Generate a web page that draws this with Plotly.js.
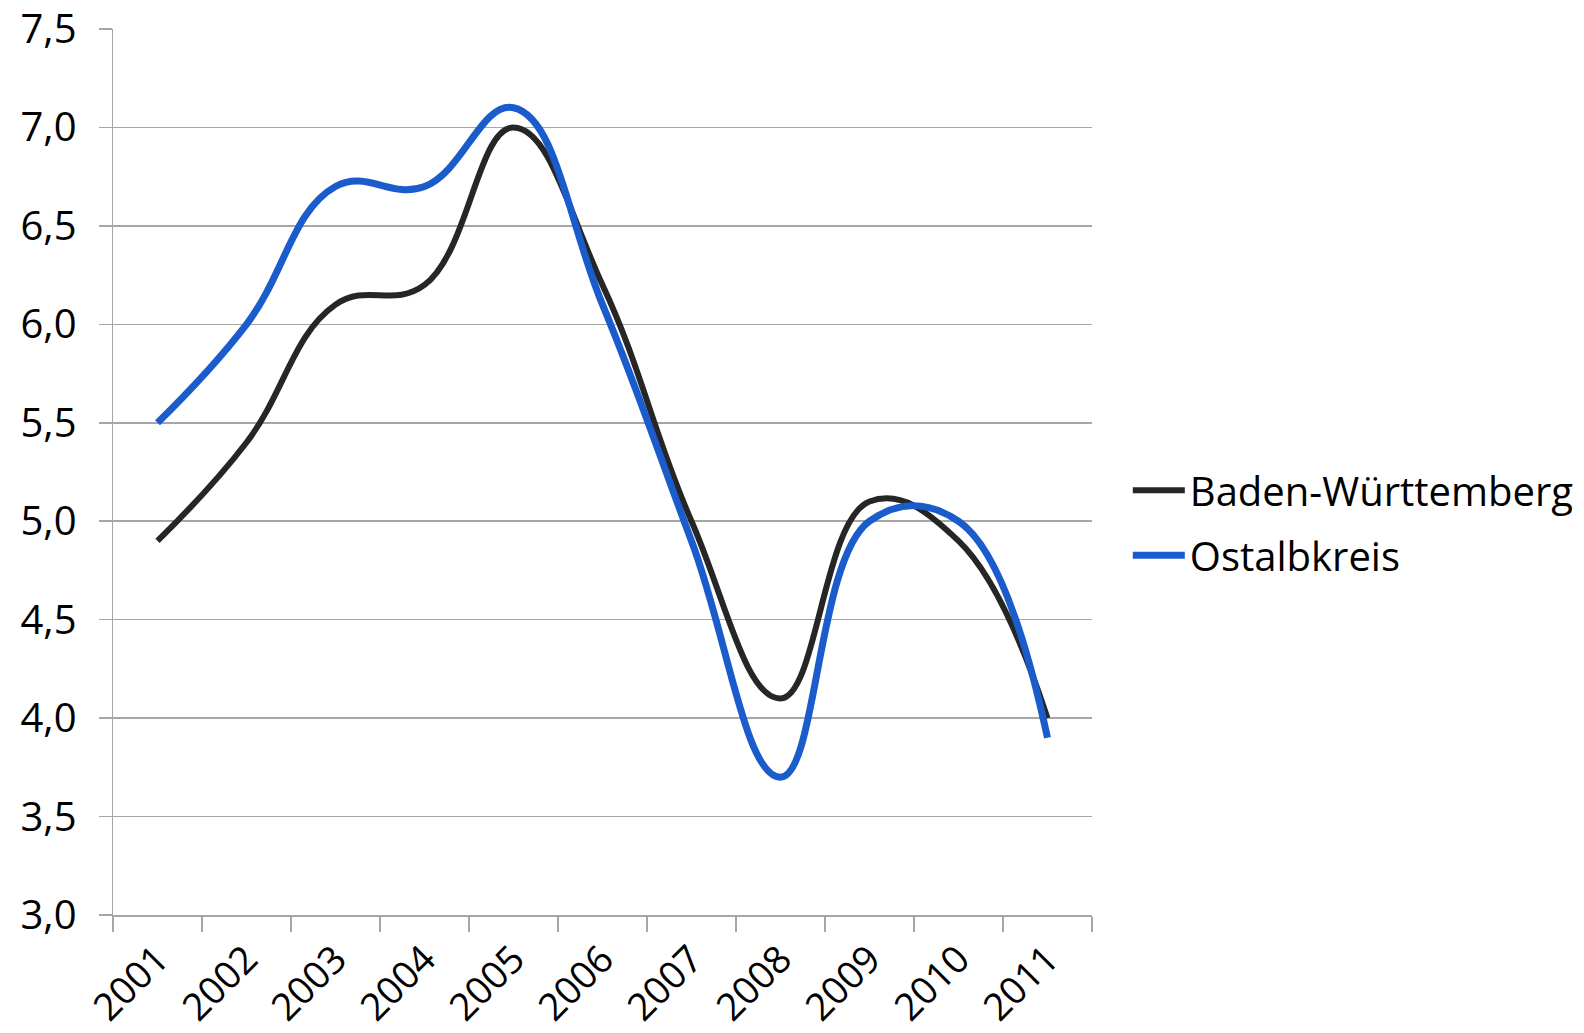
<!DOCTYPE html>
<html>
<head>
<meta charset="utf-8">
<script src="https://cdn.plot.ly/plotly-3.0.1.min.js"></script>
<style>
  html, body { margin: 0; padding: 0; background: #ffffff; }
  #chart { width: 1584px; height: 1033px; }
</style>
</head>
<body>
<div id="chart"></div>
<script>
// Data
const years = ["2001", "2002", "2003", "2004", "2005", "2006", "2007", "2008", "2009", "2010", "2011"];
const badenWuerttemberg = [4.9, 5.4, 6.1, 6.2, 7.0, 6.2, 5.0, 4.1, 5.1, 4.9, 4.0];
const ostalbkreis = [5.5, 6.0, 6.7, 6.7, 7.1, 6.1, 4.9, 3.7, 5.0, 5.0, 3.9];
const seriesNames = ["Baden-Württemberg", "Ostalbkreis"];
const yTicks = [3.0, 3.5, 4.0, 4.5, 5.0, 5.5, 6.0, 6.5, 7.0, 7.5];

const FONT = "'Open Sans', 'Noto Sans', 'DejaVu Sans', sans-serif";
const GRID = "#a6a6a6";

const traces = [
  {
    type: "scatter",
    mode: "lines",
    name: seriesNames[0],
    legendgroup: "a",
    x: years,
    y: badenWuerttemberg,
    line: { color: "#262626", width: 6, shape: "spline", smoothing: 1.2 },
    hoverinfo: "x+y+name"
  },
  {
    type: "scatter",
    mode: "lines",
    name: seriesNames[1],
    legendgroup: "b",
    x: years,
    y: ostalbkreis,
    line: { color: "#1b5ccc", width: 7, shape: "spline", smoothing: 1.2 },
    hoverinfo: "x+y+name"
  }
];

const layout = {
  width: 1584,
  height: 1033,
  paper_bgcolor: "#ffffff",
  plot_bgcolor: "#ffffff",
  margin: { l: 113, r: 492, t: 29, b: 118 },
  separators: ",.",
  font: { family: FONT, color: "#000000", size: 40 },
  showlegend: true,
  legend: {
    xref: "container",
    yref: "container",
    x: 0.712,
    xanchor: "left",
    y: 0.494,
    yanchor: "middle",
    itemwidth: 52,
    font: { family: FONT, size: 40, color: "#000000" },
    tracegroupgap: 10,
    bgcolor: "rgba(0,0,0,0)",
    borderwidth: 0
  },
  xaxis: {
    type: "category",
    categoryorder: "array",
    categoryarray: years,
    range: [-0.5, years.length - 0.5],
    tickson: "boundaries",
    ticks: "outside",
    ticklen: 15,
    tickwidth: 1.5,
    tickcolor: GRID,
    showline: true,
    linecolor: GRID,
    linewidth: 1.5,
    showgrid: false,
    zeroline: false,
    tickangle: -45,
    tickfont: { family: FONT, size: 38, color: "#000000" },
    ticklabelstandoff: 5,
    automargin: false,
    fixedrange: true
  },
  yaxis: {
    range: [3.0, 7.5],
    tickmode: "array",
    tickvals: yTicks,
    tickformat: ".1f",
    ticks: "outside",
    ticklen: 13,
    tickwidth: 1.5,
    tickcolor: GRID,
    showline: true,
    linecolor: GRID,
    linewidth: 1.5,
    showgrid: true,
    gridcolor: GRID,
    gridwidth: 1.5,
    zeroline: false,
    tickfont: { family: FONT, size: 40, color: "#000000" },
    ticklabelstandoff: 14,
    automargin: false,
    fixedrange: true
  }
};

Plotly.newPlot("chart", traces, layout, { displayModeBar: false, staticPlot: true });
</script>
</body>
</html>
